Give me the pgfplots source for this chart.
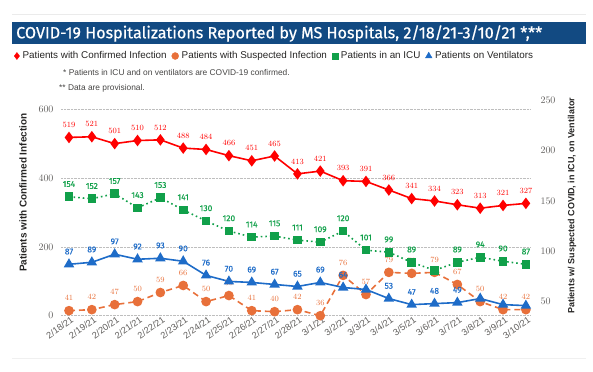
\documentclass[border=0pt]{standalone}
\usepackage{fontspec}
\setmainfont{Liberation Sans}
\newfontfamily\din[FakeBold=0.3]{Fira Sans}
\newfontfamily\dintitle[FakeBold=0.6]{Fira Sans}
\usepackage{pgfplots}
\usepackage{pgfplotstable}
\pgfplotsset{compat=1.18}
\definecolor{cConf}{HTML}{FF0000}
\definecolor{cSusp}{HTML}{E8703A}
\definecolor{cICU}{HTML}{11A04A}
\definecolor{cVent}{HTML}{1E6CC8}
\definecolor{titleblue}{HTML}{124A82}
\definecolor{tickgray}{HTML}{605E5C}
\definecolor{gridgray}{HTML}{BEBEBE}
\definecolor{txt}{HTML}{252423}

\pgfplotstableread{
x conf susp icu icul vent ventl
0 519 41 154 154 87 87
1 521 42 152 152 89 89
2 501 47 157 157 97 97
3 510 50 143 143 92 92
4 512 59 153 153 93 93
5 488 66 141 141 90 90
6 484 50 130 130 76 76
7 466 56 120 120 70 70
8 451 41 114 114 69 69
9 465 40 115 115 67 67
10 413 42 111 111 65 65
11 421 36 109 109 69 69
12 393 76 120 120 64 64
13 391 57 101 101 62 {}
14 366 79 99 99 53 53
15 341 78 89 89 47 47
16 334 79 81 {} 48 48
17 323 67 89 89 49 49
18 313 50 94 94 53 {}
19 321 42 90 90 47 {}
20 327 42 87 87 46 {}
}\data

\pgfplotsset{
  common/.style={
    at={(61bp,-315.7bp)}, anchor=south west,
    scale only axis, width=469bp, height=215.7bp,
    xmin=-0.35, xmax=20.18,
    axis line style={draw=none},
    major tick length=0pt,
    clip=false,
  },
  lab/.style={
    nodes near coords,
    every node near coord/.append style={font=\din\fontsize{8.5}{9}\selectfont, anchor=south, inner sep=0pt, yshift=9bp, text=#1},
  },
}

\begin{document}
\begin{tikzpicture}
\path[use as bounding box] (0bp,0bp) rectangle (593bp,-372bp);
\draw[black!8, line width=0.8bp] (12bp,-14bp) -- (586bp,-14bp);
\draw[black!6, line width=0.8bp] (12bp,-358bp) -- (586bp,-358bp);
\fill[titleblue] (12bp,-22bp) rectangle (586bp,-44bp);
\node[anchor=west, text=white, inner sep=0pt, font=\dintitle\fontsize{16.2}{17}\selectfont] at (16bp,-33.5bp) {COVID-19 Hospitalizations Reported by MS Hospitals, 2/18/21-3/10/21 *,**};
\node[anchor=west, text=txt!85, inner sep=0pt, font=\fontsize{8.4}{9}\selectfont] at (63bp,-73bp) {* Patients in ICU and on ventilators are COVID-19 confirmed.};
\node[anchor=west, text=txt!85, inner sep=0pt, font=\fontsize{8.4}{9}\selectfont] at (59bp,-88bp) {** Data are provisional.};

\begin{axis}[common,
  ymin=0, ymax=628,
  ytick={0,200,400,600},
  ymajorgrids, grid style={densely dotted, gridgray, line width=0.6bp},
  xtick={0,...,20},
  xticklabels={2/18/21,2/19/21,2/20/21,2/21/21,2/22/21,2/23/21,2/24/21,2/25/21,2/26/21,2/27/21,2/28/21,3/1/21,3/2/21,3/3/21,3/4/21,3/5/21,3/6/21,3/7/21,3/8/21,3/9/21,3/10/21},
  xticklabel style={rotate=35, anchor=north east, font=\fontsize{9.2}{10}\selectfont, text=tickgray, inner sep=1pt, xshift=2bp},
  yticklabel style={font=\fontsize{10}{11}\selectfont, text=tickgray, xshift=-4bp},
  ylabel={Patients with Confirmed Infection},
  ylabel style={font=\fontsize{10}{11}\selectfont\bfseries, text=txt, at={(axis description cs:-0.081,0.57)}, anchor=center},
  legend columns=4,
  legend style={draw=none, fill=none, at={(axis description cs:-0.1,1.204)}, anchor=west, font=\fontsize{9.9}{11}\selectfont, text=txt, inner sep=0pt,
    /tikz/every odd column/.append style={column sep=1bp},
    /tikz/every even column/.append style={column sep=3bp}},
  legend image code/.code={\draw[mark repeat=2,mark phase=2,#1] plot coordinates {(0bp,0bp) (5bp,0bp) (10bp,0bp)};},
]
\addlegendimage{only marks, mark=diamond*, cConf, mark size=3.5bp}
\addlegendimage{only marks, mark=*, cSusp, mark size=3.5bp}
\addlegendimage{only marks, mark=square*, cICU, mark size=3bp}
\addlegendimage{only marks, mark=triangle*, cVent, mark size=3.8bp}
\legend{Patients with Confirmed Infection, Patients with Suspected Infection, Patients in an ICU, Patients on Ventilators}
\addplot[cConf, line width=1.6bp, mark=diamond*, mark size=4.5bp, lab=cConf, forget plot] table[x=x, y=conf] {\data};
\end{axis}

\begin{axis}[common,
  ymin=36, ymax=250,
  axis y line*=right, axis x line=none,
  ytick={50,100,150,200,250},
  yticklabel style={font=\fontsize{10}{11}\selectfont, text=tickgray, xshift=7bp},
  ylabel={Patients w/ Suspected COVID, in ICU, on Ventilator},
  ylabel style={font=\fontsize{9}{10}\selectfont\bfseries, text=txt, at={(axis description cs:1.0896,0.51)}, anchor=center, rotate=0},
]
\addplot[cSusp, line width=1.6bp, dashed, dash pattern=on 6bp off 4bp, mark=*, mark size=4bp, mark options={solid}, lab=cSusp] table[x=x, y=susp] {\data};
\addplot[cICU, line width=1.6bp, dash pattern=on 1.6bp off 3bp, mark=square*, mark size=3.5bp, mark options={solid}, lab=cICU, point meta=explicit symbolic] table[x=x, y=icu, meta=icul] {\data};
\addplot[cVent, line width=1.6bp, mark=triangle*, mark size=4.5bp, lab=cVent, point meta=explicit symbolic] table[x=x, y=vent, meta=ventl] {\data};
\end{axis}
\end{tikzpicture}
\end{document}
